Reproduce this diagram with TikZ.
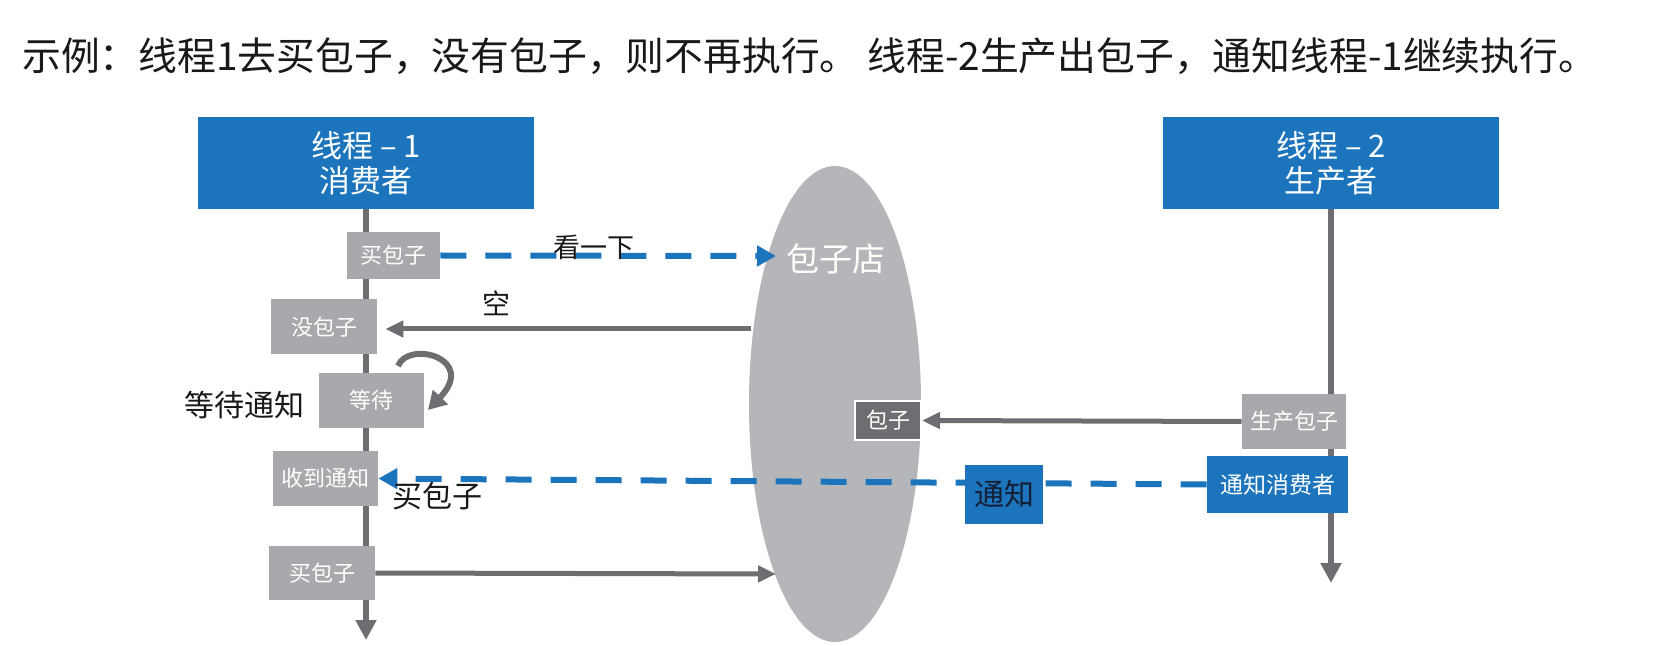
\documentclass[tikz,border=0pt]{standalone}
\usepackage{fontspec}
\setmainfont{Noto Sans CJK SC}
\usetikzlibrary{arrows.meta,shapes.geometric}
\pgfdeclarelayer{bg}
\pgfsetlayers{bg,main}
\definecolor{hblue}{RGB}{28,117,188}
\definecolor{bgray}{RGB}{167,169,172}
\definecolor{agray}{RGB}{109,110,113}
\definecolor{egray}{RGB}{181,182,185}
\definecolor{navy}{RGB}{20,30,55}
\definecolor{ink}{RGB}{25,25,25}
\begin{document}
\begin{tikzpicture}[x=0.5pt,y=-0.5pt,
  hdr/.style={fill=hblue,text=white,font=\fontsize{15.5}{17.5}\selectfont,align=center,minimum width=168pt,minimum height=46pt,inner sep=0pt},
  gbox/.style={fill=bgray,text=white,font=\fontsize{11}{13}\selectfont,inner sep=0pt},
  bbox/.style={fill=hblue,text=white,font=\fontsize{11.5}{13}\selectfont,inner sep=0pt},
  life/.style={line width=3pt,draw=agray,-{Triangle[length=10pt,width=10pt]}},
  garrow/.style={line width=2.5pt,draw=agray,-{Triangle[length=9pt,width=8pt]}},
  barrow/.style={line width=3pt,draw=hblue,dash pattern=on 13pt off 9.5pt,-{Triangle[length=9.5pt,width=10pt]}},
  lbl/.style={text=ink,inner sep=0pt},
]
\useasboundingbox (0,0) rectangle (1664,646);

% title
\node[anchor=west,inner sep=0pt,text=ink,font=\fontsize{19.4}{22}\selectfont] (title) at (22,56)
  {示例：线程1去买包子，没有包子，则不再执行。 线程-2生产出包子，通知线程-1继续执行。};

% headers
\node[hdr] (h1) at (366,163) {线程 – 1\\消费者};
\node[hdr] (h2) at (1331,163) {线程 – 2\\生产者};
\coordinate (l1end) at (366,640);
\coordinate (l2end) at (1331,583);

% shop ellipse
\node[ellipse,fill=egray,inner sep=0pt,minimum width=86pt,minimum height=238pt] (shop) at (835,404) {};
\node[text=white,inner sep=0pt,font=\fontsize{16.5}{18}\selectfont] (shopl) at (836,259) {包子店};

% consumer boxes
\node[gbox,minimum width=46.5pt,minimum height=23.5pt] (buy1) at (393.5,255.5) {买包子};
\node[gbox,minimum width=53pt,minimum height=27.5pt] (nobun) at (324,327) {没包子};
\node[gbox,minimum width=52.5pt,minimum height=27.5pt] (wait) at (371.5,400.5) {等待};
\node[gbox,minimum width=52.5pt,minimum height=27.5pt] (recv) at (325.5,478.5) {收到通知};
\node[gbox,minimum width=53pt,minimum height=27pt] (buy2) at (322,573) {买包子};

% producer boxes
\node[gbox,minimum width=52pt,minimum height=27.5pt] (prod) at (1294,421.5) {生产包子};
\node[bbox,minimum width=70.5pt,minimum height=28.5pt] (notify) at (1277.5,484.5) {通知消费者};
\node[fill=agray,draw=white,line width=1pt,text=white,inner sep=0pt,font=\fontsize{11}{13}\selectfont,minimum width=33pt,minimum height=19.5pt] (bun) at (888,420.5) {包子};

% free ends at the shop border
\coordinate (lookend) at (776,256);
\coordinate (kongstart) at (751,329);
\coordinate (buyend) at (776,574);

% connectors
\draw[barrow] (buy1.east) -- (lookend);
\draw[garrow,shorten >=4pt] (kongstart) -- (kongstart -| nobun.east);
\draw[garrow] (buy2.east) -- (buyend);
\draw[garrow] (prod.west) -- (bun.east);
\draw[barrow] (notify.west) -- (recv.east);
\draw[line width=3pt,draw=agray,-{Triangle[length=9pt,width=10pt]}] (398,366) .. controls (408,340) and (478,358) .. (428,410);

% notify label box (over the dashed line)
\node[fill=hblue,text=navy,inner sep=0pt,font=\fontsize{15}{17}\selectfont,minimum width=39pt,minimum height=29.5pt] (tz) at (1004,494.5) {通知};

% text labels
\node[lbl,font=\fontsize{13.5}{15}\selectfont] (look) at (594,247) {看一下};
\node[lbl,font=\fontsize{14}{16}\selectfont] (kong) at (496,303) {空};
\node[lbl,font=\fontsize{15}{17}\selectfont] (waitl) at (244,405) {等待通知};
\node[lbl,font=\fontsize{15}{17}\selectfont] (buyl) at (437,496) {买包子};

% white page and lifelines behind the boxes
\begin{pgfonlayer}{bg}
\fill[white] (0,0) rectangle (1664,646);
\draw[life] (h1.south) -- (l1end);
\draw[life] (h2.south) -- (l2end);
\end{pgfonlayer}
\end{tikzpicture}
\end{document}
